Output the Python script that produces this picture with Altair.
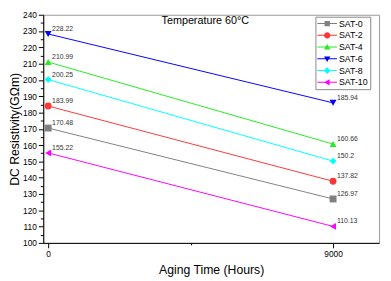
import altair as alt
import pandas as pd

series = ["SAT-0", "SAT-2", "SAT-4", "SAT-6", "SAT-8", "SAT-10"]
hours = [0, 9000]
start_vals = [170.48, 183.99, 210.99, 228.22, 200.25, 155.22]
end_vals = [126.97, 137.82, 160.66, 185.94, 150.2, 110.13]
colors = ["#808080", "#ff3636", "#22ee22", "#0000ff", "#00ffff", "#ff00ff"]
shapes = ["square", "circle", "triangle-up", "triangle-down", "diamond", "triangle-left"]
LINE = "M-1,-0.1H3V0.1H-1Z "
legend_paths = [
    LINE + "M0.45,-0.55H1.55V0.55H0.45Z",
    LINE + "M0.35,0A0.65,0.65 0 1,1 1.65,0A0.65,0.65 0 1,1 0.35,0Z",
    LINE + "M1,-0.65L1.65,0.5L0.35,0.5Z",
    LINE + "M1,0.65L0.35,-0.5L1.65,-0.5Z",
    LINE + "M1,-0.7L1.7,0L1,0.7L0.3,0Z",
    LINE + "M0.35,0L1.5,-0.65L1.5,0.65Z",
]

rows = []
for s, a, b in zip(series, start_vals, end_vals):
    rows.append({"series": s, "hours": hours[0], "value": a, "label": str(a)})
    rows.append({"series": s, "hours": hours[1], "value": b, "label": str(b)})
df = pd.DataFrame(rows)

FONT = "Liberation Sans"

x_enc = alt.X(
    "hours:Q",
    scale=alt.Scale(domain=[-155, 10454], nice=False, zero=False),
    axis=alt.Axis(
        title="Aging Time (Hours)",
        values=[0, 4500, 9000],
        format="d",
        labelExpr="datum.value === 4500 ? '' : datum.label",
        tickSize={"condition": {"test": "datum.value === 4500", "value": 2}, "value": 5},
        grid=False,
        domainColor="#000000",
        tickColor="#000000",
        labelFontSize=8.5,
        labelPadding=2,
        titleFontSize=12.5,
        titleFontWeight="normal",
        titlePadding=6,
        labelColor="#000000",
        titleColor="#000000",
    ),
)
y_enc = alt.Y(
    "value:Q",
    scale=alt.Scale(domain=[100, 240], nice=False, zero=False),
    axis=alt.Axis(
        title="DC Resistivity(GΩm)",
        values=list(range(100, 241, 5)),
        labelExpr="datum.value % 10 === 0 ? datum.label : ''",
        tickSize={"condition": {"test": "datum.value % 10 === 0", "value": 5}, "value": 3},
        grid=False,
        domainColor="#000000",
        tickColor="#000000",
        labelFontSize=8.5,
        labelPadding=2,
        titleFontSize=12.5,
        titleFontWeight="normal",
        titlePadding=1,
        labelColor="#000000",
        titleColor="#000000",
    ),
)
color_scale = alt.Scale(domain=series, range=colors)

base = alt.Chart(df)

legend_props = dict(
    title=None,
    orient="none",
    legendX=278,
    legendY=2,
    padding=2,
    strokeColor="#888888",
    fillColor="#ffffff",
    symbolSize=100,
    symbolStrokeWidth=0,
    symbolOpacity=1,
    labelFontSize=9,
    labelColor="#000000",
    labelOffset=12,
    rowPadding=2,
)

legend_layer = base.mark_point(filled=True, size=100, opacity=0).encode(
    x=x_enc, y=y_enc,
    color=alt.Color("series:N", scale=color_scale, legend=alt.Legend(**legend_props)),
    shape=alt.Shape(
        "series:N",
        scale=alt.Scale(domain=series, range=legend_paths),
        legend=alt.Legend(**legend_props),
    ),
)

lines = base.mark_line(strokeWidth=1).encode(
    x=x_enc, y=y_enc,
    color=alt.Color("series:N", scale=color_scale, legend=None),
    detail="series:N",
)

point_layers = []
for s, shp in zip(series, shapes):
    point_layers.append(
        base.transform_filter(alt.datum.series == s)
        .mark_point(shape=shp, filled=True, size=50, opacity=1)
        .encode(x=x_enc, y=y_enc, color=alt.Color("series:N", scale=color_scale, legend=None))
    )

labels = base.mark_text(
    align="left", baseline="middle", dx=4, dy=-5, fontSize=7, color="#333333", font=FONT
).encode(x=x_enc, y=y_enc, text="label:N")

chart = (
    alt.layer(legend_layer, lines, *point_layers, labels)
    .properties(
        width=343,
        height=233,
        autosize=alt.AutoSizeParams(type="none"),
        padding={"left": 36, "top": 4, "right": 4, "bottom": 36},
        title=alt.TitleParams(
            "Temperature 60°C", fontSize=11, fontWeight="normal", offset=-15,
            anchor="middle", dx=-6, font=FONT, color="#000000",
        ),
    )
    .configure(font=FONT, background="#ffffff")
    .configure_view(stroke="#999999", strokeWidth=1)
)

chart.save("out.html", embed_options={"renderer": "svg", "actions": False})
